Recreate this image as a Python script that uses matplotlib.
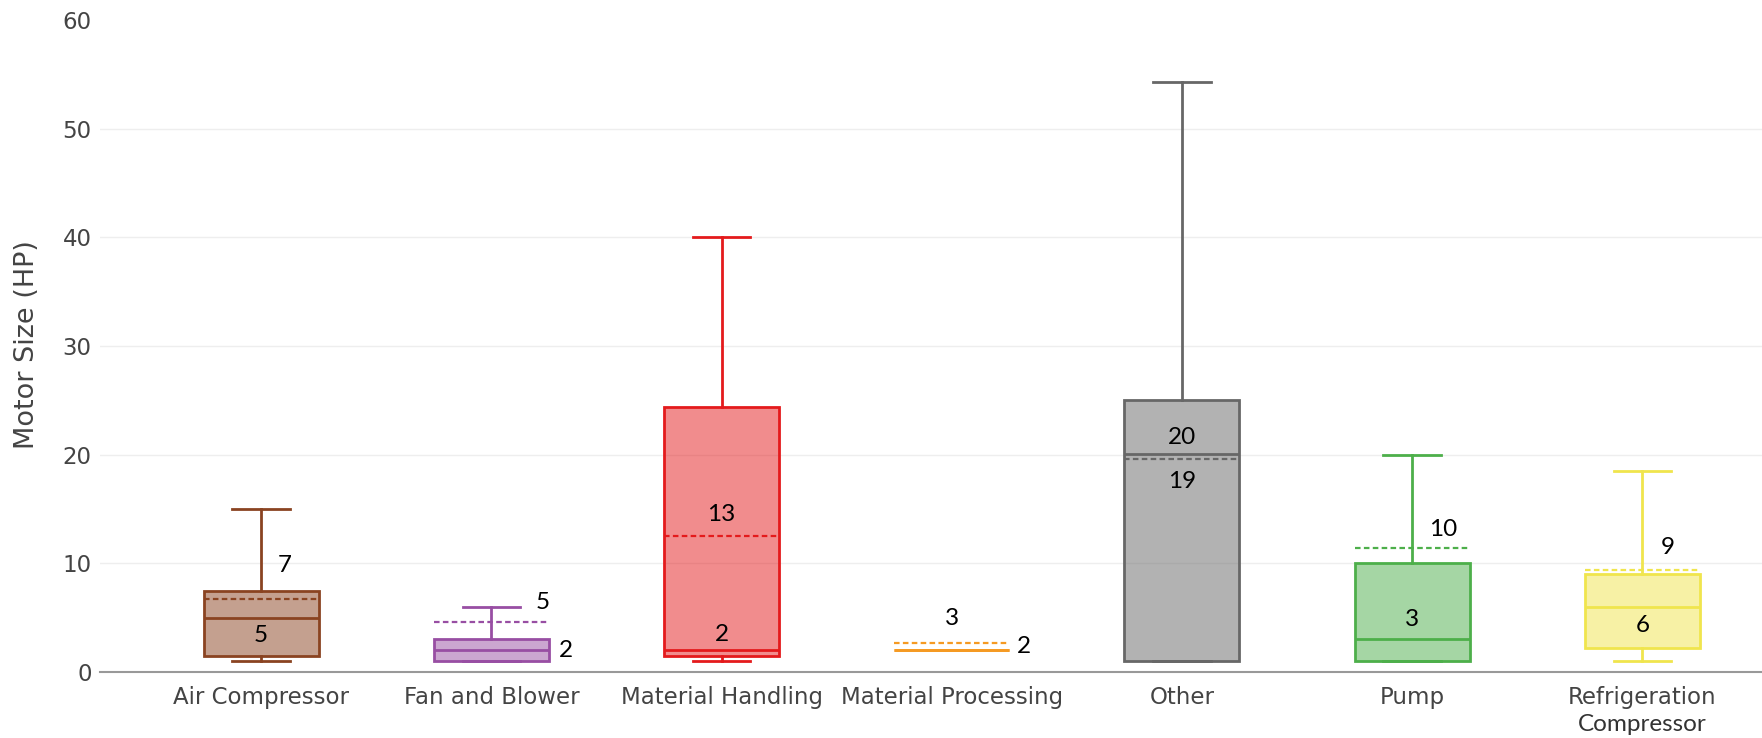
import numpy as np
import matplotlib
matplotlib.use("Agg")
import matplotlib.pyplot as plt

categories = ["Air Compressor", "Fan and Blower", "Material Handling", "Material Processing",
              "Other", "Pump", "Refrigeration Compressor"]
whisker_low = [1, 1, 1, 2, 1, 1, 1]
q1 = [1.5, 1, 1.5, 2, 1, 1, 2.2]
median = [5, 2, 2, 2, 20.1, 3, 6]
q3 = [7.5, 3, 24.4, 2, 25, 10, 9]
whisker_high = [15, 6, 40, 2, 54.3, 20, 18.5]
mean = [6.7, 4.6, 12.5, 2.7, 19.6, 11.4, 9.4]
mean_labels = ["7", "5", "13", "3", "19", "10", "9"]
median_labels = ["5", "2", "2", "2", "20", "3", "6"]

colors = ["#8a4321", "#984ea3", "#e41a1c", "#f59a23", "#676767", "#4daf4a", "#f0e54d"]

# label offsets in pixels (mean label, median label)
mean_off = [(24, 34), (51, 20), (0, 22), (0, 24), (0, -22), (31, 19), (25, 22)]
med_off = [(0, -18), (75, 0), (0, 16), (72, 4), (0, 16), (0, 20), (0, -19)]

stats = []
for i in range(len(categories)):
    stats.append(dict(whislo=whisker_low[i], q1=q1[i], med=median[i], q3=q3[i],
                      whishi=whisker_high[i], mean=mean[i], fliers=[], label=categories[i]))

fig = plt.figure(figsize=(17.62, 7.38), dpi=100)
ax = fig.add_axes([0.0568, 0.0894, 0.9432, 0.8836])

pos = np.arange(len(categories))
bp = ax.bxp(stats, positions=pos, widths=0.5, patch_artist=True, showmeans=True,
            meanline=True, showfliers=False)

for i, c in enumerate(colors):
    bp["boxes"][i].set_facecolor(matplotlib.colors.to_rgba(c, 0.5))
    bp["boxes"][i].set_edgecolor(c)
    bp["boxes"][i].set_linewidth(2)
    bp["medians"][i].set_color(c)
    bp["medians"][i].set_linewidth(2)
    bp["means"][i].set_color(c)
    bp["means"][i].set_linestyle((0, (2.5, 1.5)))
    bp["means"][i].set_linewidth(1.6)
    for ln in bp["whiskers"][2 * i:2 * i + 2] + bp["caps"][2 * i:2 * i + 2]:
        ln.set_color(c)
        ln.set_linewidth(2)

for i in range(len(categories)):
    ax.annotate(mean_labels[i], (pos[i], mean[i]), xytext=mean_off[i], textcoords="offset pixels",
                ha="center", va="center", fontsize=17.5, family="Lato", color="black")
    ax.annotate(median_labels[i], (pos[i], median[i]), xytext=med_off[i], textcoords="offset pixels",
                ha="center", va="center", fontsize=17.5, family="Lato", color="black")

ax.set_xlim(-0.7, 6.52)
ax.set_ylim(0, 60)
ax.set_yticks(np.arange(0, 61, 10))
ax.set_xticks(pos)
ticklabels = categories[:-1] + ["Refrigeration"]
ax.set_xticklabels(ticklabels, fontsize=16.5, color="#444444")
ax.tick_params(axis="x", length=0, pad=10)
ax.tick_params(axis="y", length=0, pad=6, labelsize=16.5, labelcolor="#444444")
ax.text(pos[-1], -0.081, "Compressor", transform=ax.get_xaxis_transform(), ha="center",
        va="center", fontsize=17.5, family="Lato", color="#333333")

ax.grid(axis="y", color="#eeeeee", linewidth=1)
ax.set_axisbelow(True)
ax.get_ygridlines()[0].set_visible(False)
ax.get_ygridlines()[-1].set_visible(False)
for s in ["top", "right", "left"]:
    ax.spines[s].set_visible(False)
ax.spines["bottom"].set_color("#999999")
ax.spines["bottom"].set_linewidth(1.5)

fig.text(0.0155, 0.5325, "Motor Size (HP)", rotation=90, ha="center", va="center",
         fontsize=19.5, color="#444444")

fig.savefig("out.png", dpi=100)
